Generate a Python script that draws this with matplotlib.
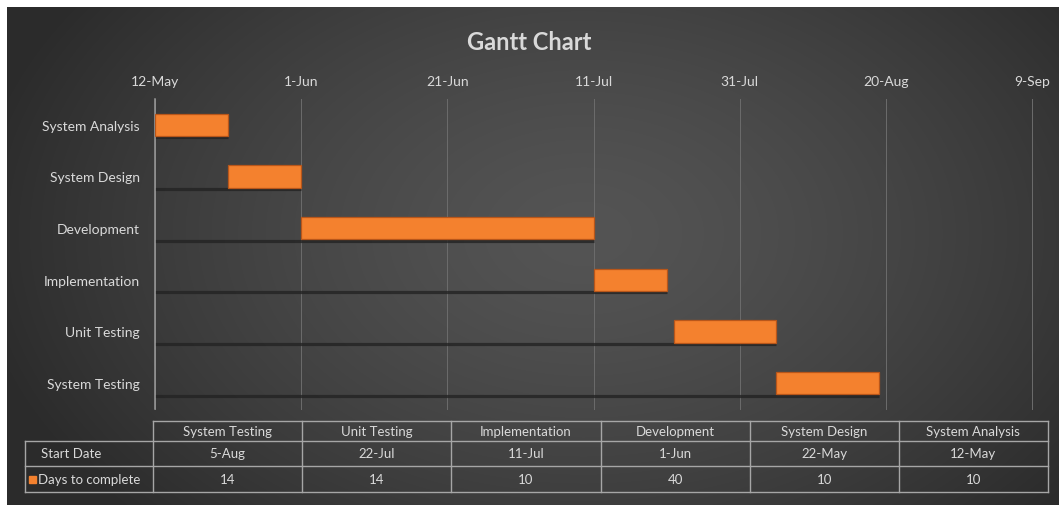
#%% Libraries
"""
Gantt chart with data table, dark Excel-like style
"""
import numpy as np
import matplotlib
matplotlib.use('Agg')
import matplotlib.pyplot as plt
import matplotlib.dates as mdates
from datetime import datetime, timedelta

plt.rcParams['font.family'] = ['Lato', 'DejaVu Sans']

#%% Data
tasks = ['System Analysis', 'System Design', 'Development',
         'Implementation', 'Unit Testing', 'System Testing']
start_dates = ['2017-05-12', '2017-05-22', '2017-06-01',
               '2017-07-11', '2017-07-22', '2017-08-05']
days_to_complete = [10, 10, 40, 10, 14, 14]
axis_start = '2017-05-12'
axis_end = '2017-09-09'
tick_step_days = 20

#%% Figure creation
W, H = 1059, 506
fig = plt.figure(figsize=(W / 100, H / 100), dpi=100)
fig.patch.set_facecolor('white')

# background panel (radial grey gradient)
bg = fig.add_axes([0, 0, 1, 1])
bg.set_xlim(0, W)
bg.set_ylim(H, 0)
bg.axis('off')
yy, xx = np.mgrid[0:H, 0:W]
r = np.sqrt(((xx - 580) / 620.0) ** 2 + ((yy - 230) / 420.0) ** 2)
shade = np.clip(0.33 - 0.16 * r ** 1.4, 0.17, 0.33)
img = np.dstack([shade, shade, shade])
bg.imshow(img, extent=[7, W, H, 8], aspect='auto', zorder=0)

txt_col = '#d9d9d9'
line_col = '#a6a6a6'

fig.text(0.5, 1 - 42 / H, 'Gantt Chart', ha='center', va='center',
         color=txt_col, fontsize=17, fontweight='bold')

#%% Gantt axes
x0, x1 = 155, 1032
ytop, ybot = 100, 410
ax = fig.add_axes([x0 / W, 1 - ybot / H, (x1 - x0) / W, (ybot - ytop) / H])
ax.patch.set_alpha(0)

starts = [mdates.date2num(datetime.strptime(s, '%Y-%m-%d')) for s in start_dates]
a0 = mdates.date2num(datetime.strptime(axis_start, '%Y-%m-%d'))
a1 = mdates.date2num(datetime.strptime(axis_end, '%Y-%m-%d'))
ypos = np.arange(len(tasks))
bar_h = 0.43

# shadows of the hidden start-date series
for y, s, d in zip(ypos, starts, days_to_complete):
    ax.hlines(y + bar_h / 2 + 0.03, a0, s + d, color='#232323', lw=2.3,
              alpha=0.8, zorder=2)

ax.barh(ypos, days_to_complete, left=starts, height=bar_h,
        color='#F4812E', edgecolor='#b8561a', linewidth=0.9, zorder=3)

ax.set_xlim(a0, a1)
ax.set_ylim(len(tasks) - 0.5, -0.5)
ticks = np.arange(a0, a1 + 1, tick_step_days)
ax.set_xticks(ticks)
ax.xaxis.set_major_formatter(plt.FuncFormatter(
    lambda v, p: '%d-%s' % (mdates.num2date(v).day, mdates.num2date(v).strftime('%b'))))
ax.xaxis.tick_top()
ax.tick_params(axis='x', length=0, pad=9, labelsize=10, colors=txt_col)
ax.set_yticks(ypos)
ax.set_yticklabels(tasks)
ax.tick_params(axis='y', length=0, pad=11, labelsize=10, colors=txt_col)
ax.grid(axis='x', color='#6c6c6c', lw=0.7, zorder=1)
for gl in ax.get_xgridlines():
    gl.set_clip_on(False)
for sp in ['top', 'right', 'bottom']:
    ax.spines[sp].set_visible(False)
ax.spines['left'].set_color('#9a9a9a')
ax.spines['left'].set_linewidth(1.1)

#%% Data table (categories in reverse order)
tl, tr = 153, 1048
rl = 25
rows_y = [422, 442, 467, 493]
ncol = len(tasks)
cw = (tr - tl) / ncol
fs = 9.5

bg.plot([tl, tr], [rows_y[0], rows_y[0]], color=line_col, lw=1)
for yv in rows_y[1:]:
    bg.plot([rl, tr], [yv, yv], color=line_col, lw=1)
for i in range(ncol + 1):
    xv = tl + i * cw
    bg.plot([xv, xv], [rows_y[0], rows_y[3]], color=line_col, lw=1)
bg.plot([rl, rl], [rows_y[1], rows_y[3]], color=line_col, lw=1)

cy = [(rows_y[k] + rows_y[k + 1]) / 2 for k in range(3)]
for i, (t, s, d) in enumerate(zip(tasks[::-1], start_dates[::-1], days_to_complete[::-1])):
    dt = datetime.strptime(s, '%Y-%m-%d')
    xc = tl + (i + 0.5) * cw
    bg.text(xc, cy[0], t, ha='center', va='center', color=txt_col, fontsize=fs)
    bg.text(xc, cy[1], '%d-%s' % (dt.day, dt.strftime('%b')), ha='center',
            va='center', color=txt_col, fontsize=fs)
    bg.text(xc, cy[2], str(d), ha='center', va='center', color=txt_col, fontsize=fs)

bg.text(41, cy[1], 'Start Date', ha='left', va='center', color=txt_col, fontsize=fs)
bg.add_patch(plt.Rectangle((29, cy[2] - 3.5), 7, 7, color='#F4812E'))
bg.text(38, cy[2], 'Days to complete', ha='left', va='center', color=txt_col, fontsize=fs)

fig.savefig('out.png', dpi=100, facecolor='white')
